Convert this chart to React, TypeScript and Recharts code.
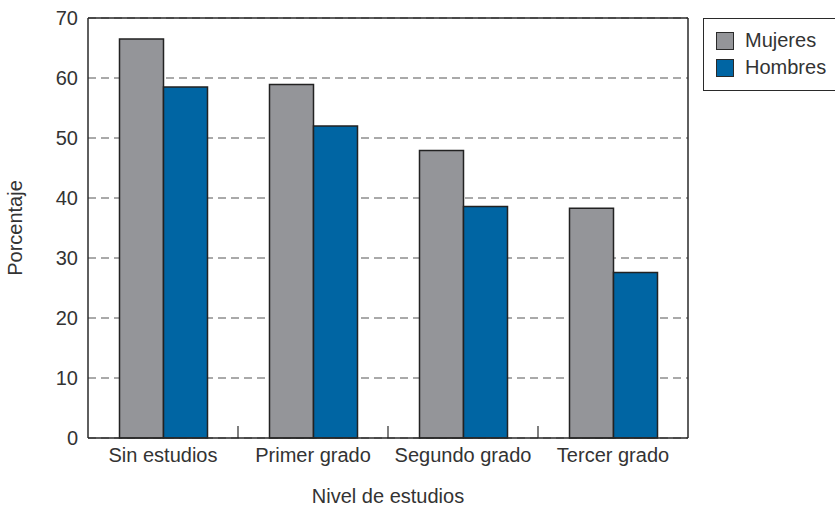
import {
  BarChart,
  Bar,
  XAxis,
  YAxis,
  CartesianGrid,
  ReferenceLine,
  Legend,
} from "recharts";

const categories = ["Sin estudios", "Primer grado", "Segundo grado", "Tercer grado"];
const mujeres = [66.5, 58.9, 47.9, 38.3];
const hombres = [58.5, 52.0, 38.6, 27.6];
const yTicks = [0, 10, 20, 30, 40, 50, 60, 70];
const seriesOrder = ["Mujeres", "Hombres"];

const data = categories.map((name, i) => ({
  name,
  Mujeres: mujeres[i],
  Hombres: hombres[i],
}));

const FONT = "'Liberation Sans', Arial, sans-serif";
const TEXT = "#333";
const LINE = "#2a2a2a";

function LegendBox(props: any) {
  const items = [...(props.payload || [])].sort(
    (a: any, b: any) => seriesOrder.indexOf(a.value) - seriesOrder.indexOf(b.value)
  );
  return (
    <div
      style={{
        border: `1.5px solid ${LINE}`,
        width: 150,
        height: 73,
        boxSizing: "border-box",
        padding: "8px 0 0 12px",
        background: "#fff",
        fontFamily: FONT,
        fontSize: 20,
        color: TEXT,
      }}
    >
      {items.map((e: any) => (
        <div key={e.value} style={{ display: "flex", alignItems: "center", height: 27 }}>
          <span
            style={{
              display: "inline-block",
              width: 18,
              height: 18,
              boxSizing: "border-box",
              background: e.color,
              border: `1px solid ${LINE}`,
              marginRight: 11,
            }}
          />
          <span>{e.value}</span>
        </div>
      ))}
    </div>
  );
}

export default function App() {
  return (
    <div style={{ position: "absolute", left: 0, top: 0, background: "#fff" }}>
      <BarChart
        width={835}
        height={507}
        data={data}
        margin={{ top: 18, right: 147, left: 0, bottom: 0 }}
        barCategoryGap="21%"
        barGap={0}
        style={{ fontFamily: FONT }}
      >
        <CartesianGrid vertical={false} stroke="#555" strokeDasharray="8 5" />
        <XAxis
          dataKey="name"
          height={69}
          tickLine={false}
          tickSize={0}
          tickMargin={10}
          axisLine={{ stroke: LINE, strokeWidth: 1.5 }}
          tick={{ fill: TEXT, fontSize: 20 }}
          interval={0}
          label={{
            value: "Nivel de estudios",
            position: "insideBottom",
            offset: 4,
            fill: TEXT,
            fontSize: 20,
          }}
        />
        <YAxis
          width={88}
          domain={[0, 70]}
          ticks={yTicks}
          tickLine={false}
          tickSize={0}
          tickMargin={10}
          axisLine={{ stroke: LINE, strokeWidth: 1.5 }}
          tick={{ fill: TEXT, fontSize: 20 }}
          label={{
            value: "Porcentaje",
            angle: -90,
            position: "insideLeft",
            offset: 15,
            fill: TEXT,
            fontSize: 20,
            textAnchor: "middle",
          }}
        />
        <ReferenceLine y={70} stroke={LINE} strokeWidth={1.5} />
        <ReferenceLine
          x={categories[categories.length - 1]}
          position="end"
          stroke={LINE}
          strokeWidth={1.5}
        />
        {categories.slice(1).map((c) => (
          <ReferenceLine
            key={c}
            position="start"
            segment={[
              { x: c, y: 0 },
              { x: c, y: 2 },
            ]}
            stroke={LINE}
            strokeWidth={1.2}
          />
        ))}
        <Bar
          dataKey="Mujeres"
          fill="#949599"
          stroke="#222"
          strokeWidth={1.5}
          isAnimationActive={false}
        />
        <Bar
          dataKey="Hombres"
          fill="#0065a3"
          stroke="#222"
          strokeWidth={1.5}
          isAnimationActive={false}
        />
        <Legend
          layout="vertical"
          align="center"
          verticalAlign="middle"
          wrapperStyle={{ left: 703, top: 18, width: 150, height: 73 }}
          content={<LegendBox />}
        />
      </BarChart>
    </div>
  );
}
